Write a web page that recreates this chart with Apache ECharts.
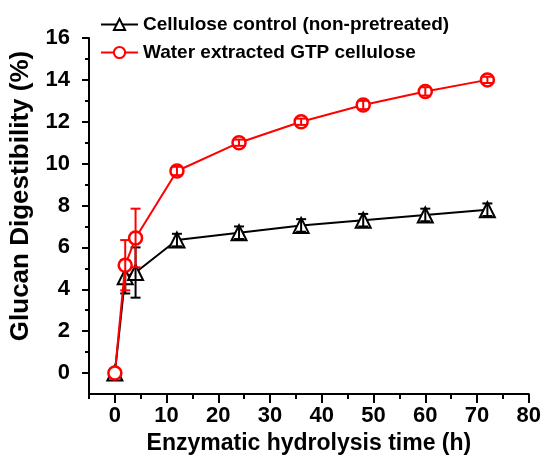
<!DOCTYPE html>
<html>
<head>
<meta charset="utf-8">
<script src="https://cdn.jsdelivr.net/npm/echarts@6/dist/echarts.min.js"></script>
<style>
  html, body { margin: 0; padding: 0; background: #fff; }
  #chart { width: 544px; height: 460px; }
</style>
</head>
<body>
<div id="chart"></div>
<script>
// 酶解时间 (h)
const hours = [0, 2, 4, 12, 24, 36, 48, 60, 72]
// 对照组（未预处理）
const controlMean = [0, 4.6, 4.8, 6.35, 6.7, 7.05, 7.3, 7.55, 7.8]
const controlErr = [0, 0.8, 1.2, 0.3, 0.3, 0.3, 0.3, 0.3, 0.3]
// 水提 GTP 纤维素
const gtpMean = [0, 5.15, 6.45, 9.65, 11.0, 12.0, 12.8, 13.45, 14.0]
const gtpErr = [0, 1.2, 1.4, 0.2, 0.15, 0.15, 0.2, 0.2, 0.15]
// 刻度
const xMajor = [0, 10, 20, 30, 40, 50, 60, 70, 80]
const xMinor = [-5, 5, 15, 25, 35, 45, 55, 65, 75]
const yMajor = [0, 2, 4, 6, 8, 10, 12, 14, 16]
const yMinor = [1, 3, 5, 7, 9, 11, 13, 15]

const font = 'Liberation Sans, Arial, sans-serif'

function errData(mean, err) {
  return hours
    .map((h, i) => [h, mean[i] - err[i], mean[i] + err[i]])
    .filter((d, i) => err[i] > 0)
}

// 误差棒
function errSeries(mean, err, color, z) {
  return {
    type: 'custom',
    z: z,
    silent: true,
    encode: { x: 0, y: [1, 2] },
    data: errData(mean, err),
    renderItem: function (params, api) {
      const x = api.value(0)
      const top = api.coord([x, api.value(2)])
      const bot = api.coord([x, api.value(1)])
      const w = 5
      const style = { stroke: color, lineWidth: 2 }
      return {
        type: 'group',
        children: [
          { type: 'line', shape: { x1: top[0], y1: top[1], x2: bot[0], y2: bot[1] }, style: style },
          { type: 'line', shape: { x1: top[0] - w, y1: top[1], x2: top[0] + w, y2: top[1] }, style: style },
          { type: 'line', shape: { x1: bot[0] - w, y1: bot[1], x2: bot[0] + w, y2: bot[1] }, style: style },
        ],
      }
    },
  }
}

const axisLine = { show: true, onZero: false, lineStyle: { color: '#000', width: 2 } }
const labelStyle = { color: '#000', fontSize: 22, fontWeight: 'bold', fontFamily: font }

const option = {
  animation: false,
  backgroundColor: '#fff',
  grid: { left: 88, right: 14, top: 38, bottom: 65 },
  legend: {
    data: ['Cellulose control (non-pretreated)', 'Water extracted GTP cellulose'],
    orient: 'vertical',
    left: 95,
    top: 10,
    itemWidth: 37,
    itemHeight: 14,
    itemGap: 9,
    textStyle: { color: '#000', fontSize: 19, fontWeight: 'bold', fontFamily: font },
  },
  xAxis: [
    {
      type: 'value',
      min: -5,
      max: 80,
      name: 'Enzymatic hydrolysis time (h)',
      nameLocation: 'middle',
      nameGap: 38,
      nameTextStyle: { color: '#000', fontSize: 23, fontWeight: 'bold', fontFamily: font },
      axisLine: axisLine,
      axisTick: { show: true, customValues: xMajor, length: 9, lineStyle: { color: '#000', width: 2 } },
      axisLabel: Object.assign({ customValues: xMajor, margin: 11 }, labelStyle),
      splitLine: { show: false },
    },
    {
      type: 'value',
      min: -5,
      max: 80,
      position: 'bottom',
      axisLine: { show: false, onZero: false },
      axisTick: { show: true, customValues: xMinor, length: 5, lineStyle: { color: '#000', width: 2 } },
      axisLabel: { show: false },
      splitLine: { show: false },
    },
  ],
  yAxis: [
    {
      type: 'value',
      min: -1,
      max: 16,
      name: 'Glucan Digestibility (%)',
      nameLocation: 'middle',
      nameGap: 55,
      nameTextStyle: { color: '#000', fontSize: 26, fontWeight: 'bold', fontFamily: font, padding: [0, 0, 0, 40] },
      axisLine: axisLine,
      axisTick: { show: true, customValues: yMajor, length: 7, lineStyle: { color: '#000', width: 2 } },
      axisLabel: Object.assign({ customValues: yMajor, margin: 19 }, labelStyle),
      splitLine: { show: false },
    },
    {
      type: 'value',
      min: -1,
      max: 16,
      position: 'left',
      axisLine: { show: false, onZero: false },
      axisTick: { show: true, customValues: yMinor, length: 4, lineStyle: { color: '#000', width: 2 } },
      axisLabel: { show: false },
      splitLine: { show: false },
    },
  ],
  series: [
    {
      name: 'Cellulose control (non-pretreated)',
      type: 'line',
      z: 2,
      data: hours.map((h, i) => [h, controlMean[i]]),
      symbol: 'triangle',
      symbolSize: 15,
      lineStyle: { color: '#000', width: 2 },
      itemStyle: { color: '#fff', borderColor: '#000', borderWidth: 2 },
    },
    errSeries(controlMean, controlErr, '#000', 3),
    {
      name: 'Water extracted GTP cellulose',
      type: 'line',
      z: 4,
      data: hours.map((h, i) => [h, gtpMean[i]]),
      symbol: 'circle',
      symbolSize: 13,
      lineStyle: { color: '#ff0000', width: 2 },
      itemStyle: { color: '#fff', borderColor: '#ff0000', borderWidth: 2.5 },
    },
    errSeries(gtpMean, gtpErr, '#ff0000', 5),
  ],
}

const myChart = echarts.init(document.getElementById('chart'))
myChart.setOption(option, true)
</script>
</body>
</html>
